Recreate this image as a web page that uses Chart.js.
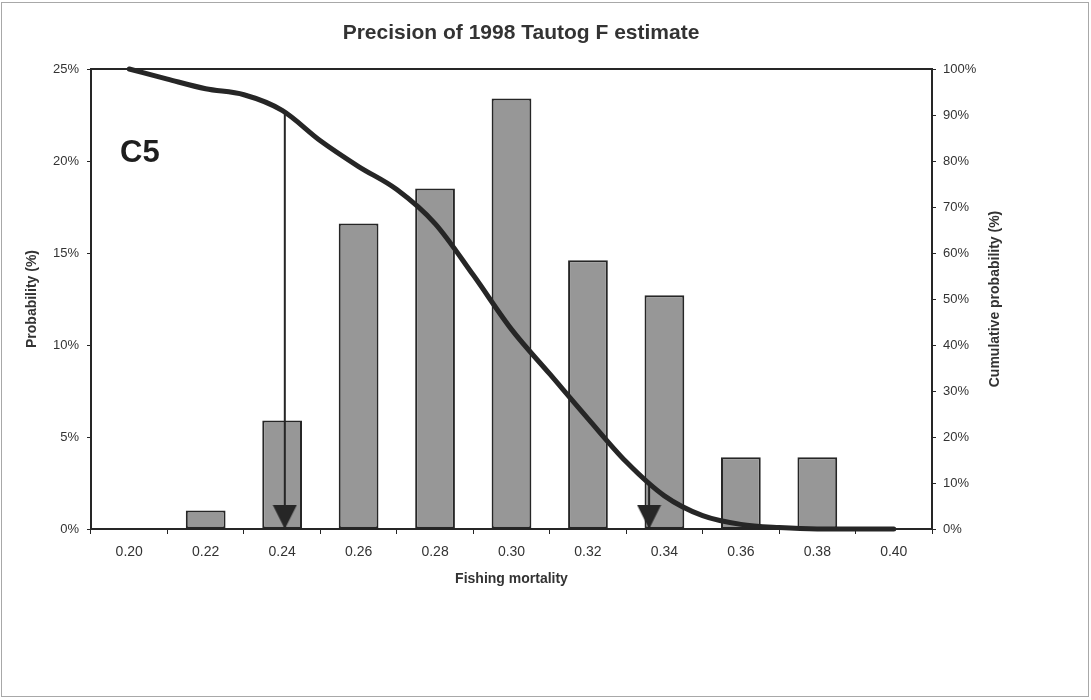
<!DOCTYPE html>
<html>
<head>
<meta charset="utf-8">
<title>Precision of 1998 Tautog F estimate</title>
<script src="https://cdn.jsdelivr.net/npm/chart.js@4.4.1/dist/chart.umd.min.js"></script>
<style>
  html, body { margin: 0; padding: 0; background: #ffffff; }
  #wrap { width: 1091px; height: 700px; position: relative; }
</style>
</head>
<body>
<div id="wrap"><canvas id="c" width="1091" height="700"></canvas></div>
<script>
// Fishing mortality classes and probability of each (%)
const fLabels = ['0.20', '0.22', '0.24', '0.26', '0.28', '0.30', '0.32', '0.34', '0.36', '0.38', '0.40'];
const probability = [0, 1.0, 5.9, 16.6, 18.5, 23.4, 14.6, 12.7, 3.9, 3.9, 0];

// Cumulative probability curve (%), sampled along fishing mortality
const cumF = [0.20, 0.21, 0.22, 0.23, 0.24, 0.25, 0.26, 0.27, 0.28, 0.29, 0.30,
              0.31, 0.32, 0.33, 0.34, 0.35, 0.36, 0.37, 0.38, 0.39, 0.40];
const cumProb = [100, 97.8, 95.7, 94.4, 91.0, 84.4, 78.8, 73.8, 66.4, 55.2, 43.4,
                 33.7, 24.0, 14.6, 7.2, 2.9, 1.0, 0.3, 0.0, 0.0, 0.0];

// Arrows dropped from the curve to the axis
const arrowF = [0.2407, 0.336];
const arrowFrom = [91.0, 9.6];

const leftTicks = [0, 5, 10, 15, 20, 25];
const rightTicks = [0, 10, 20, 30, 40, 50, 60, 70, 80, 90, 100];

const INK = '#262626';
const TEXT = '#333333';
const FONT = "'Liberation Sans', Arial, sans-serif";

// Arrowhead image: tip sits at the image centre so the point marks the tip
function makeArrowHead() {
  const c = document.createElement('canvas');
  c.width = 25; c.height = 50;
  const g = c.getContext('2d');
  g.fillStyle = INK;
  g.beginPath();
  g.moveTo(0.5, 1);
  g.lineTo(24.5, 1);
  g.lineTo(12.5, 25);
  g.closePath();
  g.fill();
  return c;
}
const arrowHead = makeArrowHead();

const arrowSets = arrowF.map((f, i) => ({
  type: 'line',
  label: 'arrow' + i,
  data: [{ x: f, y: arrowFrom[i] }, { x: f, y: 0 }],
  xAxisID: 'xl',
  yAxisID: 'y2',
  borderColor: INK,
  borderWidth: 2,
  pointRadius: [0, 12],
  pointStyle: [false, arrowHead],
  tension: 0,
  clip: false,
  order: 1
}));

const decor = {
  id: 'decor',
  beforeDatasetsDraw(chart) {
    const { ctx, chartArea: a } = chart;
    ctx.save();
    ctx.strokeStyle = INK;
    ctx.lineWidth = 2;
    ctx.beginPath();
    ctx.moveTo(a.left - 1, a.top);
    ctx.lineTo(a.right + 1, a.top);
    ctx.stroke();
    ctx.restore();
  },
  afterDraw(chart) {
    const { ctx, chartArea: a } = chart;
    ctx.save();
    // page frame
    ctx.strokeStyle = '#a8a8a8';
    ctx.lineWidth = 1;
    ctx.strokeRect(1.5, 2.5, 1087, 694);
    // title
    ctx.fillStyle = TEXT;
    ctx.font = "bold 21px " + FONT;
    ctx.textAlign = 'center';
    ctx.textBaseline = 'middle';
    ctx.fillText('Precision of 1998 Tautog F estimate', 521, 33);
    // right axis title, reading upwards
    ctx.save();
    ctx.translate(995, (a.top + a.bottom) / 2);
    ctx.rotate(-Math.PI / 2);
    ctx.font = "bold 14px " + FONT;
    ctx.fillText('Cumulative probability (%)', 0, 0);
    ctx.restore();
    // panel tag
    ctx.fillStyle = '#1e1e1e';
    ctx.font = "bold 31px " + FONT;
    ctx.textAlign = 'left';
    ctx.textBaseline = 'alphabetic';
    ctx.fillText('C5', 120, 162);
    ctx.restore();
  }
};

new Chart(document.getElementById('c'), {
  data: {
    labels: fLabels,
    datasets: [
      {
        type: 'bar',
        label: 'Probability',
        data: probability,
        xAxisID: 'x',
        yAxisID: 'y',
        backgroundColor: '#979797',
        borderColor: INK,
        borderWidth: 2,
        borderSkipped: false,
        grouped: false,
        categoryPercentage: 1.0,
        barPercentage: 0.52,
        order: 3
      },
      {
        type: 'line',
        label: 'Cumulative probability',
        data: cumF.map((f, i) => ({ x: f, y: cumProb[i] })),
        xAxisID: 'xl',
        yAxisID: 'y2',
        borderColor: INK,
        borderWidth: 5,
        pointRadius: 0,
        cubicInterpolationMode: 'monotone',
        borderCapStyle: 'round',
        clip: false,
        order: 2
      },
      ...arrowSets
    ]
  },
  options: {
    responsive: false,
    animation: false,
    events: [],
    layout: { padding: { top: 69, left: 0, right: 0, bottom: 0 } },
    plugins: { legend: { display: false }, tooltip: { enabled: false }, title: { display: false } },
    scales: {
      x: {
        type: 'category',
        position: 'bottom',
        offset: true,
        grid: { drawOnChartArea: false, offset: true, tickLength: 5, color: INK, lineWidth: 1 },
        border: { color: INK, width: 2 },
        ticks: { color: TEXT, font: { family: FONT, size: 14 }, padding: 10, maxRotation: 0 },
        title: {
          display: true, text: 'Fishing mortality', color: TEXT,
          font: { family: FONT, size: 14, weight: 'bold' },
          padding: { top: 0, bottom: 112 }
        },
        afterFit(s) { s.height = 171; }
      },
      xl: {
        type: 'linear',
        display: false,
        min: 0.19,
        max: 0.41
      },
      y: {
        position: 'left',
        min: 0, max: 25,
        afterBuildTicks(s) { s.ticks = leftTicks.map(v => ({ value: v })); },
        grid: { drawOnChartArea: false, tickLength: 4, color: INK },
        border: { color: INK, width: 2 },
        ticks: { color: TEXT, font: { family: FONT, size: 13 }, padding: 8, callback: v => v + '%' },
        title: {
          display: true, text: 'Probability (%)', color: TEXT,
          font: { family: FONT, size: 14, weight: 'bold' },
          padding: { top: 24, bottom: 0 }
        },
        afterFit(s) { s.width = 91; }
      },
      y2: {
        position: 'right',
        min: 0, max: 100,
        afterBuildTicks(s) { s.ticks = rightTicks.map(v => ({ value: v })); },
        grid: { drawOnChartArea: false, tickLength: 4, color: INK },
        border: { color: INK, width: 2 },
        ticks: { color: TEXT, font: { family: FONT, size: 13 }, padding: 7, callback: v => v + '%' },
        afterFit(s) { s.width = 159; }
      }
    }
  },
  plugins: [decor]
});
</script>
</body>
</html>
